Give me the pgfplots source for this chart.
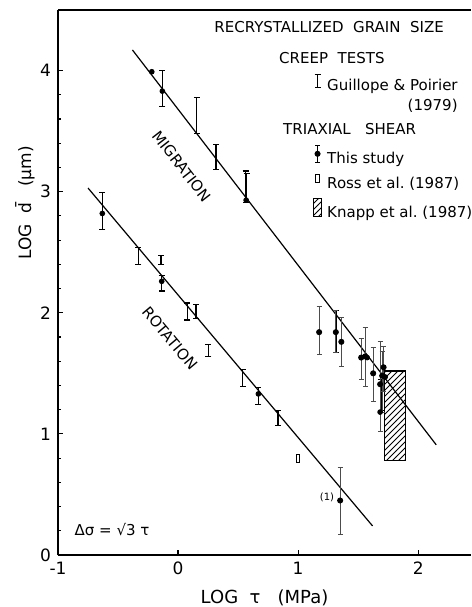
\documentclass[border=0pt]{standalone}
\usepackage{fontspec}
\setmainfont{DejaVu Sans}
\usepackage{calc}
\usepackage{pgfplots}
\pgfplotsset{compat=1.18}
\usetikzlibrary{patterns,arrows.meta}

\begin{document}
\begin{tikzpicture}
\begin{axis}[
  width=206.5pt, height=272.5pt, scale only axis,
  xmin=-1, xmax=2.44, ymin=0, ymax=4.5,
  axis x line*=box, axis y line*=left,
  axis line style={-, line width=0.9pt},
  xtick={-1,0,1,2}, ytick={0,1,2,3,4},
  minor y tick num=4,
  xtick pos=left, ytick pos=left,
  tick align=inside, major tick length=2.5pt, minor tick length=1.5pt,
  tick style={black, line width=0.6pt},
  ticklabel style={font=\fontsize{8.5}{9}\selectfont},
  /pgf/number format/assume math mode=true,
  xlabel={LOG\ \ τ\ \ \ (MPa)},
  ylabel={LOG\ \ \={d}\ \ \ (μm)},
  xlabel style={font=\fontsize{9}{10}\selectfont, at={(axis description cs:0.5,-0.079)}, anchor=center},
  ylabel style={font=\fontsize{8.5}{10}\selectfont, at={(axis description cs:-0.08,0.646)}, anchor=center},
  legend style={draw=none, fill=none, at={(rel axis cs:0.593,0.93)}, anchor=north west,
    font=\fontsize{7.5}{9}\selectfont, row sep=1.2pt, inner sep=0pt, cells={anchor=base west}},
  legend cell align=left,
]
% legend
\addlegendimage{empty legend}
\addlegendentry{\hspace*{-24pt}CREEP\ \ TESTS}
\addlegendimage{legend image code/.code={
  \path[draw=none] (0,0) rectangle (0.35cm,0.01cm);
  \draw[black, line width=0.6pt, {Bar[width=3pt]}-{Bar[width=3pt]}] (0.25cm,-0.03cm) -- (0.25cm,0.23cm);}}
\addlegendentry{Guillope \& Poirier}
\addlegendimage{empty legend}
\addlegendentry{\raisebox{0pt}[3pt][1.5pt]{\makebox[\widthof{Guillope \& Poirier}][r]{(1979)}}}
\addlegendimage{empty legend}
\addlegendentry{\hspace*{-22pt}TRIAXIAL\ \ \ SHEAR}
\addlegendimage{legend image code/.code={
  \path[draw=none] (0,0) rectangle (0.35cm,0.01cm);
  \draw[black, line width=0.4pt, {Bar[width=2.5pt]}-{Bar[width=2.5pt]}] (0.25cm,-0.06cm) -- (0.25cm,0.26cm);
  \fill[black] (0.25cm,0.1cm) circle (1.3pt);}}
\addlegendentry{This\ study}
\addlegendimage{legend image code/.code={
  \path[draw=none] (0,0) rectangle (0.35cm,0.01cm);
  \draw[black, line width=0.6pt] (0.22cm,0.03cm) rectangle (0.28cm,0.17cm);}}
\addlegendentry{Ross\ et\ al.\ (1987)}
\addlegendimage{legend image code/.code={
  \path[draw=none] (0,0) rectangle (0.35cm,0.01cm);
  \draw[black, line width=0.5pt, pattern=north east lines] (0.18cm,-0.05cm) rectangle (0.32cm,0.26cm);}}
\addlegendentry{Knapp\ et\ al.\ (1987)}

% fitted lines
\addplot[black, line width=0.6pt, forget plot] coordinates {(-0.38,4.17) (2.15,0.91)};
\addplot[black, line width=0.6pt, forget plot] coordinates {(-0.75,3.03) (1.62,0.24)};

% Knapp et al. (1987)
\addplot[black, line width=0.7pt, pattern=north east lines, forget plot]
  coordinates {(1.717,0.78) (1.892,0.78) (1.892,1.52) (1.717,1.52)} -- cycle;

% Guillope & Poirier (1979): bars only
\addplot[black, only marks, mark=text, text mark={}, forget plot,
  error bars/.cd, y dir=both, y explicit,
  error bar style={line width=0.7pt},
  error mark options={rotate=90, black, mark size=1.5pt, line width=0.6pt}]
coordinates {
  (-0.131,3.85) +- (0,0.15)
  (0.156,3.63) +- (0,0.15)
  (0.317,3.285) +- (0,0.105)
  (0.563,3.04) +- (0,0.13)
  (0.571,3.03) +- (0,0.12)
  (1.314,1.845) +- (0,0.175)
  (1.690,1.32) +- (0,0.13)
  (-0.631,2.84) +- (0,0.15)
  (-0.331,2.47) +- (0,0.07)
  (-0.142,2.435) +- (0,0.035)
  (-0.136,2.245) +- (0,0.065)
  (0.078,2.01) +- (0,0.07)
  (0.150,2.01) +- (0,0.06)
  (0.253,1.69) +- (0,0.05)
  (0.539,1.46) +- (0,0.07)
  (0.669,1.315) +- (0,0.07)
  (0.831,1.13) +- (0,0.06)
};

% This study, with error bars
\addplot[black, only marks, mark=*, mark size=1.3pt, forget plot,
  error bars/.cd, y dir=both, y explicit,
  error bar style={black!70, line width=0.4pt},
  error mark options={rotate=90, black!70, mark size=1.3pt, line width=0.4pt}]
coordinates {
  (1.175,1.84) += (0,0.21) -= (0,0.18)
  (1.314,1.84) += (0,0.18) -= (0,0.17)
  (1.360,1.76) += (0,0.20) -= (0,0.20)
  (1.525,1.63) += (0,0.16) -= (0,0.18)
  (1.558,1.64) += (0,0.24) -= (0,0.25)
  (1.625,1.50) += (0,0.21) -= (0,0.23)
  (1.683,1.41) += (0,0.35) -= (0,0.39)
  (1.700,1.48) += (0,0.20) -= (0,0.30)
  (1.712,1.55) += (0,0.17) -= (0,0.20)
  (1.350,0.45) += (0,0.27) -= (0,0.28)
};

% This study, points only
\addplot[black, only marks, mark=*, mark size=1.2pt, forget plot]
coordinates {
  (-0.219,3.99) (-0.131,3.83) (0.567,2.93) (-0.631,2.82)
  (-0.136,2.26) (0.669,1.33) (1.575,1.63) (1.683,1.18) (1.725,1.47)
};

% Ross et al. (1987)
\addplot[black, only marks, mark=square, mark size=2pt,
  mark options={xscale=0.4, line width=0.6pt}, forget plot]
coordinates {(1.0,0.795)};

\node[font=\fontsize{7.5}{9}\selectfont] at (axis cs:1.258,4.36) {RECRYSTALLIZED\ \ GRAIN\ \ SIZE};
\node[font=\fontsize{7.5}{9}\selectfont, rotate=-52] at (axis cs:0.03,3.21) {MIGRATION};
\node[font=\fontsize{7.5}{9}\selectfont, rotate=-50] at (axis cs:-0.067,1.79) {ROTATION};
\node[font=\fontsize{7.5}{9}\selectfont] at (axis cs:-0.55,0.21) {Δσ = √3 τ};
\node[font=\fontsize{5}{6}\selectfont] at (axis cs:1.24,0.48) {(1)};
\end{axis}
\pgfresetboundingbox
\path ([shift={(-29pt,-26pt)}]current axis.south west) rectangle ([shift={(0pt,5pt)}]current axis.north east);
\end{tikzpicture}
\end{document}
